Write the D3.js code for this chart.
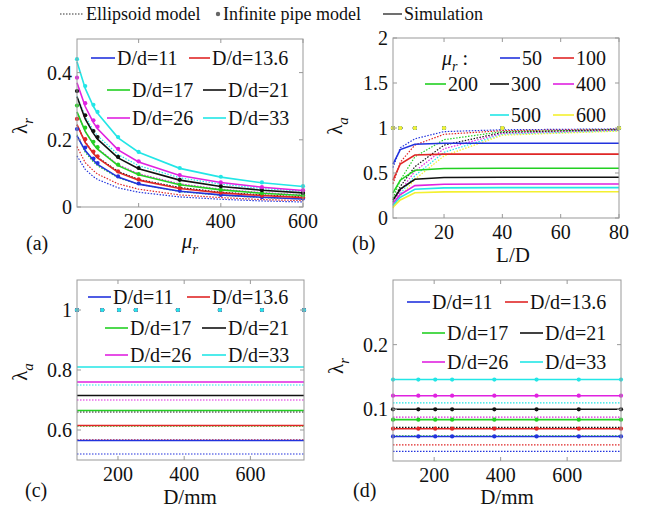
<!DOCTYPE html>
<html>
<head>
<meta charset="utf-8">
<script src="https://cdnjs.cloudflare.com/ajax/libs/d3/7.8.5/d3.min.js"></script>
<style>
  body { margin: 0; background: #fff; }
  svg text { font-family: "Liberation Serif", "Times New Roman", serif; fill: #111; }
</style>
</head>
<body>
<svg id="chart" width="645" height="508"></svg>
<script>
// ---- data ----
var ratioLabels = ["D/d=11", "D/d=13.6", "D/d=17", "D/d=21", "D/d=26", "D/d=33"];
var ratioColors = ["#2233dd", "#e02626", "#22d022", "#111111", "#e022e0", "#22e6e6"];

var muLabels = ["50", "100", "200", "300", "400", "500", "600"];
var muColors = ["#2233dd", "#e02626", "#22d022", "#111111", "#e022e0", "#22e6e6", "#f4f030"];

// (a) lambda_r vs mu_r
var muR = [50, 70, 90, 100, 150, 200, 300, 400, 500, 600];
var aPipe = [
  [0.232, 0.177, 0.144, 0.131, 0.091, 0.070, 0.048, 0.036, 0.029, 0.025],
  [0.262, 0.202, 0.165, 0.151, 0.106, 0.082, 0.056, 0.043, 0.034, 0.029],
  [0.302, 0.236, 0.194, 0.178, 0.126, 0.098, 0.067, 0.051, 0.041, 0.035],
  [0.345, 0.273, 0.226, 0.208, 0.149, 0.116, 0.081, 0.062, 0.050, 0.042],
  [0.385, 0.309, 0.258, 0.239, 0.173, 0.136, 0.095, 0.073, 0.059, 0.050],
  [0.440, 0.360, 0.304, 0.283, 0.208, 0.164, 0.116, 0.090, 0.073, 0.062]
];
var aSim = [
  [0.212, 0.168, 0.139, 0.127, 0.089, 0.068, 0.047, 0.036, 0.029, 0.024],
  [0.245, 0.192, 0.159, 0.146, 0.103, 0.080, 0.055, 0.042, 0.034, 0.028],
  [0.283, 0.225, 0.187, 0.172, 0.123, 0.096, 0.066, 0.051, 0.041, 0.034],
  [0.328, 0.262, 0.219, 0.202, 0.146, 0.114, 0.080, 0.061, 0.050, 0.042],
  [0.370, 0.299, 0.251, 0.233, 0.170, 0.134, 0.094, 0.073, 0.059, 0.049],
  [0.432, 0.353, 0.299, 0.279, 0.206, 0.163, 0.115, 0.089, 0.072, 0.061]
];
var aEll = [
  [0.152, 0.112, 0.090, 0.082, 0.057, 0.044, 0.030, 0.023, 0.018, 0.015],
  [0.180, 0.132, 0.108, 0.098, 0.069, 0.053, 0.036, 0.028, 0.022, 0.019],
  [0.215, 0.163, 0.134, 0.123, 0.087, 0.068, 0.046, 0.035, 0.028, 0.024],
  [0.245, 0.194, 0.160, 0.148, 0.106, 0.082, 0.058, 0.044, 0.036, 0.030],
  [0.281, 0.226, 0.188, 0.174, 0.126, 0.099, 0.069, 0.053, 0.043, 0.036],
  [0.330, 0.270, 0.228, 0.212, 0.156, 0.123, 0.087, 0.068, 0.055, 0.047]
];

// (b) lambda_a vs L/D
var LD = [2.5, 5, 10, 20, 40, 80];
var bSim = [
  [0.60, 0.76, 0.82, 0.83, 0.83, 0.83],
  [0.42, 0.60, 0.70, 0.71, 0.71, 0.71],
  [0.28, 0.42, 0.53, 0.55, 0.552, 0.552],
  [0.20, 0.32, 0.43, 0.45, 0.452, 0.452],
  [0.16, 0.26, 0.36, 0.375, 0.378, 0.378],
  [0.14, 0.23, 0.32, 0.335, 0.337, 0.337],
  [0.12, 0.20, 0.28, 0.29, 0.292, 0.292]
];
var bEll = [
  [0.56, 0.78, 0.88, 0.96, 0.98, 0.99],
  [0.38, 0.62, 0.81, 0.93, 0.97, 0.985],
  [0.22, 0.42, 0.68, 0.87, 0.96, 0.98],
  [0.18, 0.35, 0.57, 0.81, 0.95, 0.98],
  [0.15, 0.30, 0.52, 0.77, 0.94, 0.975],
  [0.13, 0.27, 0.47, 0.73, 0.93, 0.97],
  [0.11, 0.24, 0.43, 0.69, 0.92, 0.965]
];
var bPipe = [
  [1, 1, 1, 1, 1, 1], [1, 1, 1, 1, 1, 1], [1, 1, 1, 1, 1, 1], [1, 1, 1, 1, 1, 1],
  [1, 1, 1, 1, 1, 1], [1, 1, 1, 1, 1, 1], [1, 1, 1, 1, 1, 1]
];

// (c) lambda_a vs D  and  (d) lambda_r vs D
var Dmm = [76.2, 152.4, 203.2, 254, 381, 508, 635, 762];
var cSim = [
  [0.565, 0.565, 0.565, 0.565, 0.565, 0.565, 0.565, 0.565],
  [0.615, 0.615, 0.615, 0.615, 0.615, 0.615, 0.615, 0.615],
  [0.665, 0.665, 0.665, 0.665, 0.665, 0.665, 0.665, 0.665],
  [0.715, 0.715, 0.715, 0.715, 0.715, 0.715, 0.715, 0.715],
  [0.760, 0.760, 0.760, 0.760, 0.760, 0.760, 0.760, 0.760],
  [0.810, 0.810, 0.810, 0.810, 0.810, 0.810, 0.810, 0.810]
];
var cEll = [
  [0.520, 0.520, 0.520, 0.520, 0.520, 0.520, 0.520, 0.520],
  [0.567, 0.567, 0.567, 0.567, 0.567, 0.567, 0.567, 0.567],
  [0.613, 0.613, 0.613, 0.613, 0.613, 0.613, 0.613, 0.613],
  [0.660, 0.660, 0.660, 0.660, 0.660, 0.660, 0.660, 0.660],
  [0.700, 0.700, 0.700, 0.700, 0.700, 0.700, 0.700, 0.700],
  [0.750, 0.750, 0.750, 0.750, 0.750, 0.750, 0.750, 0.750]
];
var cPipe = [
  [1, 1, 1, 1, 1, 1, 1, 1], [1, 1, 1, 1, 1, 1, 1, 1], [1, 1, 1, 1, 1, 1, 1, 1],
  [1, 1, 1, 1, 1, 1, 1, 1], [1, 1, 1, 1, 1, 1, 1, 1], [1, 1, 1, 1, 1, 1, 1, 1]
];
var dSim = [
  [0.058, 0.058, 0.058, 0.058, 0.058, 0.058, 0.058, 0.058],
  [0.070, 0.070, 0.070, 0.070, 0.070, 0.070, 0.070, 0.070],
  [0.084, 0.084, 0.084, 0.084, 0.084, 0.084, 0.084, 0.084],
  [0.100, 0.100, 0.100, 0.100, 0.100, 0.100, 0.100, 0.100],
  [0.121, 0.121, 0.121, 0.121, 0.121, 0.121, 0.121, 0.121],
  [0.146, 0.146, 0.146, 0.146, 0.146, 0.146, 0.146, 0.146]
];
var dEll = [
  [0.035, 0.035, 0.035, 0.035, 0.035, 0.035, 0.035, 0.035],
  [0.045, 0.045, 0.045, 0.045, 0.045, 0.045, 0.045, 0.045],
  [0.059, 0.059, 0.059, 0.059, 0.059, 0.059, 0.059, 0.059],
  [0.072, 0.072, 0.072, 0.072, 0.072, 0.072, 0.072, 0.072],
  [0.088, 0.088, 0.088, 0.088, 0.088, 0.088, 0.088, 0.088],
  [0.110, 0.110, 0.110, 0.110, 0.110, 0.110, 0.110, 0.110]
];
var dPipe = dSim;

// ---- drawing ----
var svg = d3.select("#chart");

svg.append("rect").attr("width", 645).attr("height", 508).attr("fill", "#fff");

function panel(cfg) {
  var x = d3.scaleLinear().domain(cfg.xDomain).range([cfg.left, cfg.right]);
  var y = d3.scaleLinear().domain(cfg.yDomain).range([cfg.bottom, cfg.top]);
  var g = svg.append("g");

  var line = d3.line().x(d => x(d[0])).y(d => y(d[1]));
  var pts = (xs, ys) => xs.map((v, i) => [v, ys[i]]);

  // ellipsoid model (dotted)
  cfg.ell.forEach(function (s, k) {
    g.append("path").datum(pts(cfg.xs, s))
      .attr("d", line).attr("fill", "none")
      .attr("stroke", cfg.colors[k]).attr("stroke-width", 1.2)
      .attr("stroke-dasharray", "1.5,1.5");
  });
  // simulation (solid)
  cfg.sim.forEach(function (s, k) {
    g.append("path").datum(pts(cfg.xs, s))
      .attr("d", line).attr("fill", "none")
      .attr("stroke", cfg.colors[k]).attr("stroke-width", 1.6);
  });
  // infinite pipe model (dots)
  cfg.pipe.forEach(function (s, k) {
    g.selectAll(null).data(pts(cfg.xs, s)).enter().append("circle")
      .attr("cx", d => x(d[0])).attr("cy", d => y(d[1])).attr("r", 2.1)
      .attr("fill", cfg.colors[k]);
  });

  // box + mirrored inward ticks
  var ax = g.append("g").attr("stroke", "#999").attr("fill", "none");
  ax.append("rect").attr("x", cfg.left).attr("y", cfg.top)
    .attr("width", cfg.right - cfg.left).attr("height", cfg.bottom - cfg.top);
  cfg.xTicks.forEach(function (t) {
    ax.append("line").attr("x1", x(t)).attr("x2", x(t)).attr("y1", cfg.bottom).attr("y2", cfg.bottom - 4);
    ax.append("line").attr("x1", x(t)).attr("x2", x(t)).attr("y1", cfg.top).attr("y2", cfg.top + 4);
  });
  cfg.yTicks.forEach(function (t) {
    ax.append("line").attr("y1", y(t)).attr("y2", y(t)).attr("x1", cfg.left).attr("x2", cfg.left + 4);
    ax.append("line").attr("y1", y(t)).attr("y2", y(t)).attr("x1", cfg.right).attr("x2", cfg.right - 4);
  });

  g.selectAll(null).data(cfg.xTicks).enter().append("text")
    .attr("x", d => x(d)).attr("y", cfg.bottom + 21)
    .attr("text-anchor", "middle").style("font-size", "20px")
    .text(d => d);
  g.selectAll(null).data(cfg.yTicks).enter().append("text")
    .attr("x", cfg.left - 5).attr("y", d => y(d) + 7)
    .attr("text-anchor", "end").style("font-size", "20px")
    .text(d => d);

  // legend: [series index, line start, line end, row y]
  var lg = g.append("g");
  cfg.legend.forEach(function (item) {
    lg.append("line").attr("x1", item[1]).attr("x2", item[2])
      .attr("y1", item[3]).attr("y2", item[3])
      .attr("stroke", cfg.colors[item[0]]).attr("stroke-width", 1.6);
    lg.append("text").attr("x", item[2] + 2).attr("y", item[3] + 7)
      .style("font-size", "20px").text(cfg.names[item[0]]);
  });

  return g;
}

var ga = panel({
  left: 77, right: 303, top: 39, bottom: 207,
  xDomain: [50, 600], yDomain: [0, 0.5],
  xTicks: [200, 400, 600], yTicks: [0, 0.2, 0.4],
  xs: muR, sim: aSim, ell: aEll, pipe: aPipe,
  colors: ratioColors, names: ratioLabels,
  legend: [[0, 91, 115, 58], [1, 189, 210, 58],
           [2, 107, 130, 90], [3, 203, 226, 90],
           [4, 107, 130, 118], [5, 203, 226, 118]]
});

var gb = panel({
  left: 393, right: 619, top: 38, bottom: 218,
  xDomain: [2.5, 80], yDomain: [0, 2],
  xTicks: [20, 40, 60, 80], yTicks: [0, 0.5, 1, 1.5, 2],
  xs: LD, sim: bSim, ell: bEll, pipe: bPipe,
  colors: muColors, names: muLabels,
  legend: [[0, 500, 520, 58], [1, 553, 574, 58],
           [2, 425, 446, 84], [3, 490, 509, 84], [4, 553, 574, 84],
           [5, 490, 509, 115], [6, 553, 574, 115]]
});

var gc = panel({
  left: 77, right: 304, top: 280, bottom: 460,
  xDomain: [76.2, 762], yDomain: [0.5, 1.1],
  xTicks: [200, 400, 600], yTicks: [0.6, 0.8, 1],
  xs: Dmm, sim: cSim, ell: cEll, pipe: cPipe,
  colors: ratioColors, names: ratioLabels,
  legend: [[0, 88, 111, 297], [1, 187, 210, 297],
           [2, 105, 128, 328], [3, 202, 226, 328],
           [4, 105, 128, 355], [5, 202, 226, 355]]
});

var gd = panel({
  left: 393, right: 621, top: 280, bottom: 461,
  xDomain: [76.2, 762], yDomain: [0.02, 0.3],
  xTicks: [200, 400, 600], yTicks: [0.1, 0.2],
  xs: Dmm, sim: dSim, ell: dEll, pipe: dPipe,
  colors: ratioColors, names: ratioLabels,
  legend: [[0, 407, 430, 302], [1, 505, 528, 302],
           [2, 422, 445, 333], [3, 520, 543, 333],
           [4, 422, 445, 362], [5, 520, 543, 362]]
});

// mu_r : legend label in (b)
var mt = svg.append("text").attr("x", 442).attr("y", 65).style("font-size", "20px");
mt.append("tspan").style("font-style", "italic").text("μ");
mt.append("tspan").attr("dy", 6).style("font-size", "14px").style("font-style", "italic").text("r");
mt.append("tspan").attr("dy", -6).text(" :");

// axis titles
function subLabel(x, y, main, sub, rotate, italicMain) {
  var t = svg.append("text")
    .attr("transform", "translate(" + x + "," + y + ")" + (rotate ? " rotate(-90)" : ""))
    .attr("text-anchor", "middle").style("font-size", "21px");
  t.append("tspan").style("font-style", italicMain ? "italic" : "normal").text(main);
  t.append("tspan").attr("dy", 6).style("font-size", "15px").style("font-style", "italic").text(sub);
}
subLabel(27, 126, "λ", "r", true, false);
subLabel(342, 126, "λ", "a", true, false);
subLabel(27, 372, "λ", "a", true, false);
subLabel(343, 366, "λ", "r", true, false);
subLabel(190, 248, "μ", "r", false, true);

svg.append("text").attr("x", 513).attr("y", 262).attr("text-anchor", "middle")
  .style("font-size", "21px").text("L/D");
svg.append("text").attr("x", 190).attr("y", 504).attr("text-anchor", "middle")
  .style("font-size", "21px").text("D/mm");
svg.append("text").attr("x", 507).attr("y", 504).attr("text-anchor", "middle")
  .style("font-size", "21px").text("D/mm");

[["(a)", 26, 250], ["(b)", 352, 250], ["(c)", 25, 497], ["(d)", 353, 497]].forEach(function (p) {
  svg.append("text").attr("x", p[1]).attr("y", p[2]).style("font-size", "20px").text(p[0]);
});

// global legend on top
var topLegend = svg.append("g");
topLegend.append("line").attr("x1", 60).attr("x2", 84).attr("y1", 14).attr("y2", 14)
  .attr("stroke", "#333").attr("stroke-width", 1.2).attr("stroke-dasharray", "1.5,1.5");
topLegend.append("text").attr("x", 86).attr("y", 20).style("font-size", "18px").text("Ellipsoid model");
topLegend.append("circle").attr("cx", 218).attr("cy", 14).attr("r", 2.2).attr("fill", "#666");
topLegend.append("text").attr("x", 223).attr("y", 20).style("font-size", "18px").text("Infinite pipe model");
topLegend.append("line").attr("x1", 383).attr("x2", 402).attr("y1", 14).attr("y2", 14)
  .attr("stroke", "#333").attr("stroke-width", 1.4);
topLegend.append("text").attr("x", 404).attr("y", 20).style("font-size", "18px").text("Simulation");
</script>
</body>
</html>
